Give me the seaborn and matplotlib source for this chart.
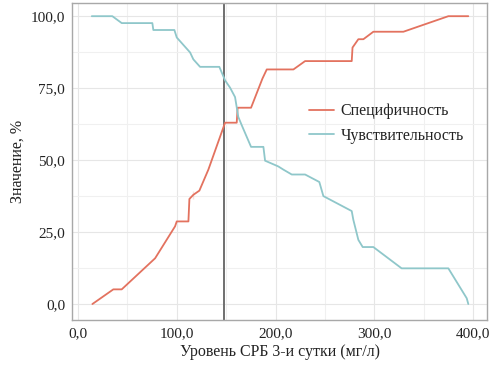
import matplotlib
matplotlib.use("Agg")
import matplotlib.pyplot as plt
import matplotlib.ticker as mticker
import seaborn as sns
import pandas as pd

# values
spec_x = [14.5, 35.7, 44.2, 78, 98.2, 99.9, 111.7, 112.7, 116.7, 116.7, 122.8, 131.9,
          148.8, 160.6, 161.5, 175.1, 186.6, 191, 218, 229.8, 277, 277.8, 283.7, 288.8,
          298.9, 329.3, 374.8, 395]
spec_y = [0, 5.1, 5.1, 15.9, 27, 28.7, 28.7, 36.5, 36.5, 39.4, 39.4, 46.7,
          63, 63, 68.2, 68.2, 78.3, 81.5, 81.5, 84.4, 84.4, 89.1, 92, 92,
          94.6, 94.6, 100, 100]

sens_x = [13.9, 34.7, 44.2, 75.2, 76.2, 97.5, 99.9, 113.4, 116.7, 123.5, 143, 148.8,
          153.8, 158.9, 162.2, 165.7, 175.1, 187.6, 189.3, 202.7, 207.8, 216.3, 229.8,
          244.2, 248.3, 277, 278.6, 283.7, 288.1, 298.9, 327.5, 374.8, 393.4, 395]
sens_y = [100, 100, 97.6, 97.6, 95.2, 95.2, 92.6, 87.4, 85, 82.4, 82.4, 77.7,
          75.2, 71.9, 65, 62.1, 54.6, 54.6, 49.8, 47.8, 46.7, 45, 45,
          42.4, 37.5, 32.3, 29.3, 22.3, 19.8, 19.8, 12.4, 12.4, 2.0, 0]

cutoff = 148
labels = ["Специфичность", "Чувствительность"]
colors = ["#e3725f", "#8fc7ca"]

sns.set_theme(style="white")
plt.rcParams['font.family'] = ['Liberation Serif', 'DejaVu Serif']

spec = pd.DataFrame({"x": spec_x, "y": spec_y})
sens = pd.DataFrame({"x": sens_x, "y": sens_y})

fig = plt.figure(figsize=(4.94, 3.68), dpi=100)
ax = fig.add_axes([0.146, 0.130, 0.840, 0.862])

sns.lineplot(data=spec, x="x", y="y", ax=ax, color=colors[0], lw=1.3,
             label=labels[0], sort=False)
sns.lineplot(data=sens, x="x", y="y", ax=ax, color=colors[1], lw=1.3,
             label=labels[1], sort=False)
ax.axvline(cutoff, color="#6f6f6f", lw=1.4, zorder=1)

ax.set_xlim(-6, 414)
ax.set_ylim(-5.6, 104.6)
ax.xaxis.set_major_locator(mticker.MultipleLocator(100))
ax.xaxis.set_minor_locator(mticker.MultipleLocator(50))
ax.yaxis.set_major_locator(mticker.MultipleLocator(25))
ax.yaxis.set_minor_locator(mticker.MultipleLocator(12.5))
fmt = mticker.FuncFormatter(lambda v, p: f"{v:.1f}".replace(".", ","))
ax.xaxis.set_major_formatter(fmt)
ax.yaxis.set_major_formatter(fmt)
ax.grid(which="major", color="#e6e6e6", lw=0.8)
ax.grid(which="minor", color="#f0f0f0", lw=0.8)
ax.set_axisbelow(True)

for s in ax.spines.values():
    s.set_color("#a8a8a8")
    s.set_linewidth(1.0)
ax.tick_params(which="major", axis="both", length=3, width=0.8, color="#a8a8a8",
               labelsize=11, labelcolor="#222222", pad=2)
ax.tick_params(which="minor", length=0)

ax.set_xlabel("Уровень СРБ 3-и сутки (мг/л)", fontsize=11.5, color="#222222", labelpad=3)
ax.set_ylabel("Значение, %", fontsize=11.5, color="#222222", labelpad=4)

ax.legend(loc="center left", bbox_to_anchor=(0.535, 0.62), frameon=False,
          fontsize=11.5, handlelength=1.6, handletextpad=0.4, labelspacing=0.55,
          labelcolor="#222222")

fig.savefig("out.png", dpi=100)
